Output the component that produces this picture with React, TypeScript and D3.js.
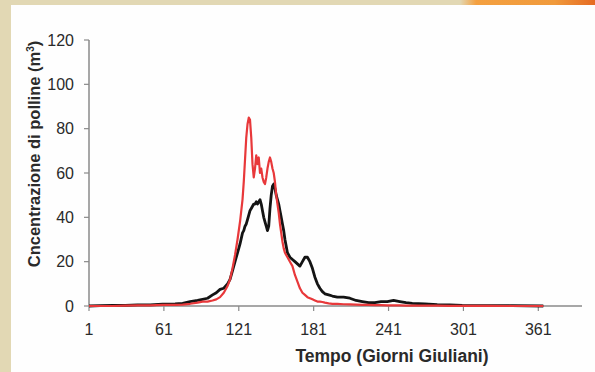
import React from 'react';
import * as d3 from 'd3';

const days = [
  1, 10, 20, 30, 40, 50, 60, 70, 76, 82, 88, 92, 96, 100, 103, 106, 109, 112, 114, 116,
  118, 120, 122, 124, 125, 126, 127, 128, 129, 130, 131, 132, 133, 134, 135, 136, 137, 138,
  139, 140, 141, 142, 143, 144, 145, 146, 147, 148, 149, 150, 151, 152, 153, 154, 155, 156,
  157, 158, 160, 162, 164, 166, 168, 170, 172, 174, 176, 178, 180, 182, 184, 186, 188, 190,
  193, 196, 200, 205, 210, 215, 220, 225, 230, 235, 240, 245, 250, 255, 260, 270, 280, 290,
  300, 320, 340, 365
];

const blackValues = [
  0, 0.2, 0.3, 0.3, 0.5, 0.5, 0.8, 1, 1.2, 2, 2.5, 3, 3.5, 5, 6, 7.5, 8, 10, 12, 16,
  20, 24, 28, 33, 34, 36, 37, 39, 41, 43, 44, 45, 46, 46, 47, 46, 47, 48,
  46, 43, 40, 38, 36, 34, 36, 44, 50, 54, 55, 53, 50, 48, 46, 43, 40, 37,
  34, 30, 24, 22, 21, 20, 19, 18, 20, 22, 22, 20, 17, 13, 10, 8, 6.5, 5.5,
  5, 4.5, 4, 4, 3.5, 2.5, 2, 1.5, 1.5, 2, 2, 2.5, 2, 1.5, 1.2, 1, 0.6, 0.5,
  0.3, 0.2, 0.2, 0
];

const redValues = [
  0, 0, 0, 0.2, 0.3, 0.3, 0.5, 0.5, 0.6, 1, 1.5, 2, 2, 2.5, 3, 4, 6, 9, 12, 17,
  23, 30, 38, 48, 56, 66, 76, 82, 85, 84, 76, 64, 58, 62, 68, 64, 67, 60,
  62, 58, 56, 55, 58, 62, 65, 67, 65, 62, 60, 56, 50, 46, 42, 37, 33, 29,
  26, 24, 22, 20, 18, 14, 11, 8, 6, 5, 4, 3.5, 3, 2.5, 2, 2, 1.8, 1.5,
  1.2, 1, 1, 0.8, 0.7, 0.6, 0.5, 0.5, 0.4, 0.4, 0.3, 0.3, 0.3, 0.2, 0.2, 0.2, 0.2, 0.1,
  0.1, 0.1, 0, 0
];

const xTicks = [1, 61, 121, 181, 241, 301, 361];
const yTicks = [0, 20, 40, 60, 80, 100, 120];

const width = 595;
const height = 372;

export default function App() {
  const x = d3.scaleLinear().domain([1, 396]).range([89, 582]);
  const y = d3.scaleLinear().domain([0, 120]).range([306, 40]);

  const line = d3.line<number>()
    .x((_, i) => x(days[i]))
    .y(d => y(d));

  return (
    <>
      <style>{`body{margin:0}`}</style>
      <svg width={width} height={height} style={{ display: 'block', fontFamily: 'Liberation Sans, Arial, sans-serif' }}>
        <defs>
          <linearGradient id="strip" x1="0" x2="1" y1="0" y2="0">
            <stop offset="0" stopColor="#e2d8b4" />
            <stop offset="0.12" stopColor="#f4a040" />
            <stop offset="0.7" stopColor="#f09a3c" />
            <stop offset="1" stopColor="#e56a22" />
          </linearGradient>
        </defs>
        <rect x={0} y={0} width={width} height={height} fill="#e2d8b4" />
        <rect x={460} y={0} width={135} height={6} fill="url(#strip)" />
        <rect x={11} y={5} width={width - 11} height={height - 5} fill="#fefefe" />

        {/* axes */}
        <line x1={x(1)} x2={x(396)} y1={y(0)} y2={y(0)} stroke="#8a8a8a" strokeWidth={1.5} />
        <line x1={x(1)} x2={x(1)} y1={y(0)} y2={y(120)} stroke="#8a8a8a" strokeWidth={1.5} />
        {yTicks.map(t => (
          <g key={`y-${t}`}>
            <line x1={x(1) - 5} x2={x(1)} y1={y(t)} y2={y(t)} stroke="#8a8a8a" strokeWidth={1.2} />
            <text x={74} y={y(t)} dy="0.36em" textAnchor="end" fontSize={16} fill="#2a2a2a">{t}</text>
          </g>
        ))}
        {xTicks.map(t => (
          <g key={`x-${t}`}>
            <line x1={x(t)} x2={x(t)} y1={y(0)} y2={y(0) + 5} stroke="#8a8a8a" strokeWidth={1.2} />
            <text x={x(t)} y={335} textAnchor="middle" fontSize={16} fill="#2a2a2a">{t}</text>
          </g>
        ))}

        {/* series */}
        <path d={line(blackValues) ?? ''} fill="none" stroke="#141414" strokeWidth={2.8} strokeLinejoin="round" />
        <path d={line(redValues) ?? ''} fill="none" stroke="#e8383a" strokeWidth={2.2} strokeLinejoin="round" />

        {/* titles */}
        <text x={392} y={362} textAnchor="middle" fontSize={17.5} fontWeight="bold" fill="#2a2a2a">
          Tempo (Giorni Giuliani)
        </text>
        <text transform="translate(40, 154) rotate(-90)" textAnchor="middle" fontSize={16.5} fontWeight="bold" fill="#2a2a2a">
          Cncentrazione di polline (m<tspan fontSize={10} dy={-6}>3</tspan><tspan dy={6}>)</tspan>
        </text>
      </svg>
    </>
  );
}
